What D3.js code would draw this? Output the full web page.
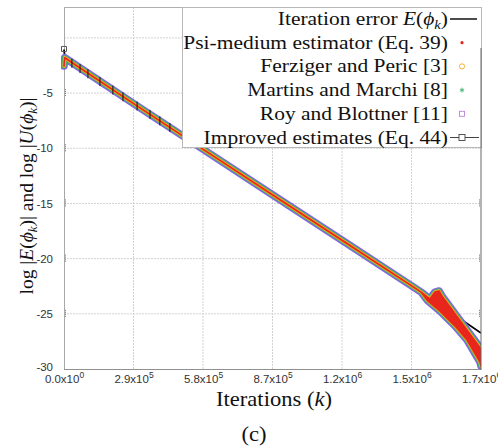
<!DOCTYPE html>
<html><head><meta charset="utf-8">
<script src="https://cdn.jsdelivr.net/npm/d3@7"></script>
<style>body{margin:0;background:#fff} svg{display:block}</style>
</head><body><svg id="chart" width="498" height="447"></svg>
<script>
// Iteration error E(phi_k), log10 scale
const errorK = [0, 4000, 300000, 600000, 900000, 1200000, 1465000, 1490000, 1740000];
const errorV = [-1.05, -1.85, -6.09, -10.37, -14.64, -18.9, -22.67, -23.03, -26.74];

// Common path of the four estimators before they spread apart
const estK = [0, 3000, 300000, 600000, 900000, 1200000, 1465000, 1490000];
const estV = [-2.55, -1.8, -6.09, -10.37, -14.64, -18.9, -22.67, -23.03];
// Spread of the estimators towards the end (upper and lower envelope)
const spreadUpperK = [1490000, 1527000, 1548000, 1565000, 1577000, 1740000];
const spreadUpperV = [-23.03, -23.66, -23.03, -22.93, -23.39, -28.19];
const spreadLowerK = [1490000, 1515000, 1569000, 1632000, 1682000, 1736000, 1740000];
const spreadLowerV = [-23.03, -23.75, -24.75, -26.11, -27.37, -29.37, -29.73];

// Improved estimates (Eq. 44)
const improvedK = [0, 33000, 67000, 100000, 150000, 204000, 246000, 305000, 359000, 400000, 442000];
const improvedV = [-1.0, -2.30, -2.78, -3.25, -3.96, -4.73, -5.33, -6.17, -6.94, -7.52, -8.12];

// Estimators, drawn outermost first
const estimatorNames = ["Roy and Blottner [11]", "Martins and Marchi [8]", "Ferziger and Peric [3]", "Psi-medium estimator (Eq. 39)"];
const estimatorColors = ["#8a5cf0", "#3cb36e", "#f5a623", "#e8261c"];

// Axis ticks
const xTicks = [0, 290000, 580000, 870000, 1160000, 1450000, 1740000];
const xTickMant = ["0.0", "2.9", "5.8", "8.7", "1.2", "1.5", "1.7"];
const xTickExp = ["0", "5", "5", "5", "6", "6", "6"];
const yTicks = [-30, -25, -20, -15, -10, -5, 0];
const yTickLabels = ["-30", "-25", "-20", "-15", "-10", "-5", ""];

const svg = d3.select("#chart");
const L = 64, R = 481, T = 7, B = 369;
const x = d3.scaleLinear().domain([0, 1740000]).range([L, R]);
const y = d3.scaleLinear().domain([-30, 2.8]).range([B, T]);

const serif = "'Liberation Serif','Times New Roman',serif";
const sans = "'Liberation Sans',Arial,sans-serif";
const wide = 1.13; // horizontal stretch of the serif captions

// grid
svg.append("g").selectAll("line").data(xTicks.slice(1, -1)).join("line")
  .attr("x1", d => x(d)).attr("x2", d => x(d)).attr("y1", T).attr("y2", B)
  .attr("stroke", "#d2d2d2").attr("stroke-dasharray", "2,1");
svg.append("g").selectAll("line").data(yTicks.slice(1)).join("line")
  .attr("x1", L).attr("x2", R).attr("y1", d => y(d)).attr("y2", d => y(d))
  .attr("stroke", "#d2d2d2").attr("stroke-dasharray", "2,1");

// frame
svg.append("line").attr("x1", L).attr("x2", R).attr("y1", T + 0.5).attr("y2", T + 0.5).attr("stroke", "#b0b0b0");
svg.append("line").attr("x1", L + 0.5).attr("x2", L + 0.5).attr("y1", T).attr("y2", B).attr("stroke", "#a8a8a8");
svg.append("line").attr("x1", L).attr("x2", R).attr("y1", B + 0.5).attr("y2", B + 0.5).attr("stroke", "#909090").attr("stroke-width", 1.2);

// y axis
const yAxis = svg.append("g").attr("transform", `translate(${L - 8},0)`)
  .call(d3.axisLeft(y).tickValues(yTicks).tickSize(0).tickFormat((d, i) => yTickLabels[i]));
yAxis.select(".domain").remove();
yAxis.selectAll("text").attr("font-family", sans).attr("font-size", 11.5).attr("fill", "#333").attr("dx", 0);
yAxis.selectAll(".tick").filter(d => d === -30).select("text").attr("dy", "0.1em");
// small axis marks
svg.append("g").selectAll("line").data(yTicks.slice(1, -1)).join("line")
  .attr("x1", L + 1.5).attr("x2", L + 1.5).attr("y1", d => y(d) - 4).attr("y2", d => y(d) + 4)
  .attr("stroke", "#777").attr("stroke-dasharray", "1,1");

// x axis
const xAxis = svg.append("g").attr("transform", `translate(0,${B + 1})`)
  .call(d3.axisBottom(x).tickValues(xTicks).tickSize(0).tickFormat(""));
xAxis.select(".domain").remove();
xAxis.selectAll(".tick text").each(function (d, i) {
  const t = d3.select(this).attr("font-family", sans).attr("font-size", 11.5).attr("fill", "#333")
    .attr("y", 13).attr("dy", 0);
  t.append("tspan").text(xTickMant[i] + "x10");
  t.append("tspan").attr("font-size", 8.5).attr("dy", -5).text(xTickExp[i]);
});

// plot content clipped to the axes
svg.append("clipPath").attr("id", "plotclip").append("rect")
  .attr("x", L - 3).attr("y", T).attr("width", R - L + 3).attr("height", B - T);
const plot = svg.append("g").attr("clip-path", "url(#plotclip)");

// iteration error
const line = d3.line().x(d => x(d[0])).y(d => y(d[1]));
plot.append("path").datum(d3.zip(errorK, errorV)).attr("d", line)
  .attr("fill", "none").attr("stroke", "#000").attr("stroke-width", 1.8);

// estimators: common path, upper envelope out, lower envelope back, common path back
const estPts = d3.zip(estK, estV);
const ring = estPts
  .concat(d3.zip(spreadUpperK, spreadUpperV).slice(1))
  .concat(d3.zip(spreadLowerK, spreadLowerV).reverse().slice(0, -1))
  .concat(estPts.slice().reverse());
const widths = [7.6, 5.4, 3.4, 1.6];
estimatorColors.forEach((c, i) => {
  plot.append("path").datum(ring).attr("d", line)
    .attr("fill", c).attr("stroke", c).attr("stroke-width", widths[i])
    .attr("stroke-linejoin", "round").attr("stroke-linecap", "round");
});

// improved estimates markers
const imp = d3.zip(improvedK, improvedV);
plot.append("g").selectAll("path").data(imp).join("path")
  .attr("d", (d, i) => i === 0
    ? `M${x(d[0]) - 2.5},${y(d[1]) - 2.5}h5v5h-5z`
    : `M${x(d[0])},${y(d[1]) - 4.5}v9`)
  .attr("fill", "none").attr("stroke", (d, i) => i === 0 ? "#555" : "#111").attr("stroke-width", 1);

// legend
const lg = svg.append("g");
lg.append("rect").attr("x", 182.5).attr("y", 7.5).attr("width", 299).attr("height", 140)
  .attr("fill", "#fff").attr("stroke", "#b8b8b8");
const rowY = [25, 48.7, 72.4, 96.1, 119.8, 143.5];
const tx = 448;
const legendText = (row) => lg.append("text")
  .attr("transform", `translate(${tx},${rowY[row]}) scale(${wide},1)`)
  .attr("text-anchor", "end").attr("font-family", serif).attr("font-size", 19).attr("fill", "#111");
const t0 = legendText(0);
t0.append("tspan").text("Iteration error ");
t0.append("tspan").attr("font-style", "italic").text("E");
t0.append("tspan").text("(");
t0.append("tspan").attr("font-style", "italic").text("ϕ");
t0.append("tspan").attr("font-style", "italic").attr("font-size", 13).attr("dy", 4).text("k");
t0.append("tspan").attr("dy", -4).text(")");
legendText(1).text(estimatorNames[3]);
legendText(2).text(estimatorNames[2]);
legendText(3).text(estimatorNames[1]);
legendText(4).text(estimatorNames[0]);
legendText(5).text("Improved estimates (Eq. 44)");
const mx = 462;
lg.append("line").attr("x1", 450).attr("x2", 477).attr("y1", rowY[0] - 6).attr("y2", rowY[0] - 6).attr("stroke", "#111").attr("stroke-width", 1.5);
lg.append("circle").attr("cx", mx).attr("cy", rowY[1] - 6).attr("r", 1.6).attr("fill", estimatorColors[3]);
lg.append("circle").attr("cx", mx).attr("cy", rowY[2] - 6).attr("r", 2.6).attr("fill", "none").attr("stroke", estimatorColors[2]).attr("stroke-width", 0.9);
lg.append("path").attr("transform", `translate(${mx},${rowY[3] - 6})`)
  .attr("d", d3.symbol(d3.symbolAsterisk, 16)).attr("stroke", estimatorColors[1]).attr("stroke-width", 0.9);
lg.append("rect").attr("x", mx - 2.5).attr("y", rowY[4] - 8.5).attr("width", 5).attr("height", 5)
  .attr("fill", "none").attr("stroke", "#b883d8").attr("stroke-width", 0.9);
lg.append("line").attr("x1", 450).attr("x2", 479).attr("y1", rowY[5] - 6).attr("y2", rowY[5] - 6).attr("stroke", "#444").attr("stroke-width", 1);
lg.append("rect").attr("x", mx - 3).attr("y", rowY[5] - 9).attr("width", 6).attr("height", 6)
  .attr("fill", "#fff").attr("stroke", "#444").attr("stroke-width", 0.9);

// right frame
svg.append("line").attr("x1", R).attr("x2", R).attr("y1", 48).attr("y2", B + 1).attr("stroke", "#666");
svg.append("g").selectAll("line").data([-25, -20, -15]).join("line")
  .attr("x1", R - 1.5).attr("x2", R - 1.5).attr("y1", d => y(d) - 4).attr("y2", d => y(d) + 4)
  .attr("stroke", "#777").attr("stroke-dasharray", "1,1");

// axis titles
const yl = svg.append("text").attr("transform", "translate(33,196) rotate(-90)")
  .attr("text-anchor", "middle").attr("font-family", serif).attr("font-size", 19.5).attr("fill", "#111");
yl.append("tspan").text("log |");
yl.append("tspan").attr("font-style", "italic").text("E");
yl.append("tspan").text("(");
yl.append("tspan").attr("font-style", "italic").text("ϕ");
yl.append("tspan").attr("font-style", "italic").attr("font-size", 13).attr("dy", 4).text("k");
yl.append("tspan").attr("dy", -4).text(")|  and log |");
yl.append("tspan").attr("font-style", "italic").text("U");
yl.append("tspan").text("(");
yl.append("tspan").attr("font-style", "italic").text("ϕ");
yl.append("tspan").attr("font-style", "italic").attr("font-size", 13).attr("dy", 4).text("k");
yl.append("tspan").attr("dy", -4).text(")|");

const xl = svg.append("text").attr("transform", `translate(274,406) scale(${wide},1)`).attr("text-anchor", "middle")
  .attr("font-family", serif).attr("font-size", 20).attr("fill", "#111");
xl.append("tspan").text("Iterations (");
xl.append("tspan").attr("font-style", "italic").text("k");
xl.append("tspan").text(")");

svg.append("text").attr("transform", `translate(254,441) scale(${wide},1)`).attr("text-anchor", "middle")
  .attr("font-family", serif).attr("font-size", 20).attr("fill", "#111").text("(c)");
</script>
</body></html>
